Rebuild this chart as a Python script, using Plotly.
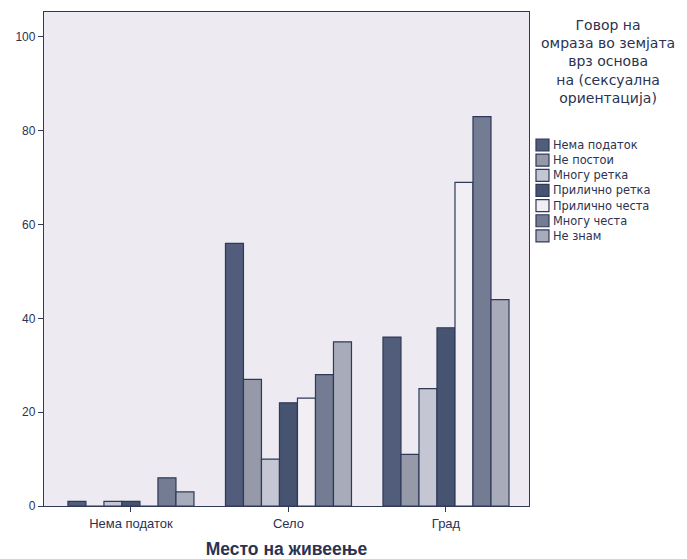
import plotly.graph_objects as go

categories = ["Нема податок", "Село", "Град"]
series_names = ["Нема податок", "Не постои", "Многу ретка", "Прилично ретка",
                "Прилично честа", "Многу честа", "Не знам"]
values = {
    "Нема податок":   [1, 56, 36],
    "Не постои":      [0, 27, 11],
    "Многу ретка":    [1, 10, 25],
    "Прилично ретка": [1, 22, 38],
    "Прилично честа": [0, 23, 69],
    "Многу честа":    [6, 28, 83],
    "Не знам":        [3, 35, 44],
}
colors = ["#515d7a", "#9599a8", "#c5c6d3", "#465371", "#f1eff4", "#737c93", "#a8acba"]
y_ticks = [0, 20, 40, 60, 80, 100]
legend_title = "Говор на<br>омраза во земјата<br>врз основа<br>на (сексуална<br>ориентација)"
x_title = "Место на живеење"

edge = "#2e3a58"
text_col = "#2b3350"

fig = go.Figure()
for name, col in zip(series_names, colors):
    fig.add_trace(go.Bar(
        x=categories, y=values[name], name=name, showlegend=False,
        marker=dict(color=col, line=dict(color=edge, width=1.2)),
    ))

# custom legend (compact row spacing like the original)
plot_h = 494.0
row0 = 361.0 / plot_h      # paper y of first row centre
row_step = 15.15 / plot_h
half = 6.0 / plot_h
shapes = []
annotations = []
for i, (name, col) in enumerate(zip(series_names, colors)):
    yc = row0 - i * row_step
    shapes.append(dict(type="rect", xref="paper", yref="paper",
                       x0=1.0144, x1=1.0412, y0=yc - half, y1=yc + half,
                       fillcolor=col, line=dict(color=edge, width=1.2)))
    annotations.append(dict(text=name, xref="paper", yref="paper",
                            x=1.046, y=yc, xanchor="left", yanchor="middle",
                            showarrow=False,
                            font=dict(family="DejaVu Sans", size=11.4, color=text_col)))

annotations.append(dict(
    text=legend_title, xref="paper", yref="paper", x=1.1619, y=0.993,
    xanchor="center", yanchor="top", showarrow=False,
    font=dict(size=14, color=text_col, family="DejaVu Sans"),
))

fig.update_layout(
    width=679, height=551,
    margin=dict(l=36, r=158, t=4, b=53),
    paper_bgcolor="white",
    plot_bgcolor="#edebf1",
    barmode="group", bargap=0.2, bargroupgap=0,
    font=dict(family="Liberation Sans, Arial", color=text_col, size=12),
    showlegend=False,
    xaxis=dict(
        range=[-0.552, 2.527], showline=True, mirror=True, linecolor=edge, linewidth=1.3,
        ticks="outside", ticklen=5, tickcolor=edge, showgrid=False,
        tickfont=dict(size=13, color=text_col),
        title=dict(text="<b>" + x_title + "</b>",
                   font=dict(size=17.5, color=text_col, family="Liberation Sans, Arial"),
                   standoff=12),
    ),
    yaxis=dict(
        range=[0, 105.3], showline=True, mirror=True, linecolor=edge, linewidth=1.3,
        ticks="outside", ticklen=5, tickcolor=edge, showgrid=False, zeroline=False,
        tickvals=y_ticks, tickfont=dict(size=12, color=text_col),
    ),
    shapes=shapes,
    annotations=annotations,
)
fig.write_html("out.html")
